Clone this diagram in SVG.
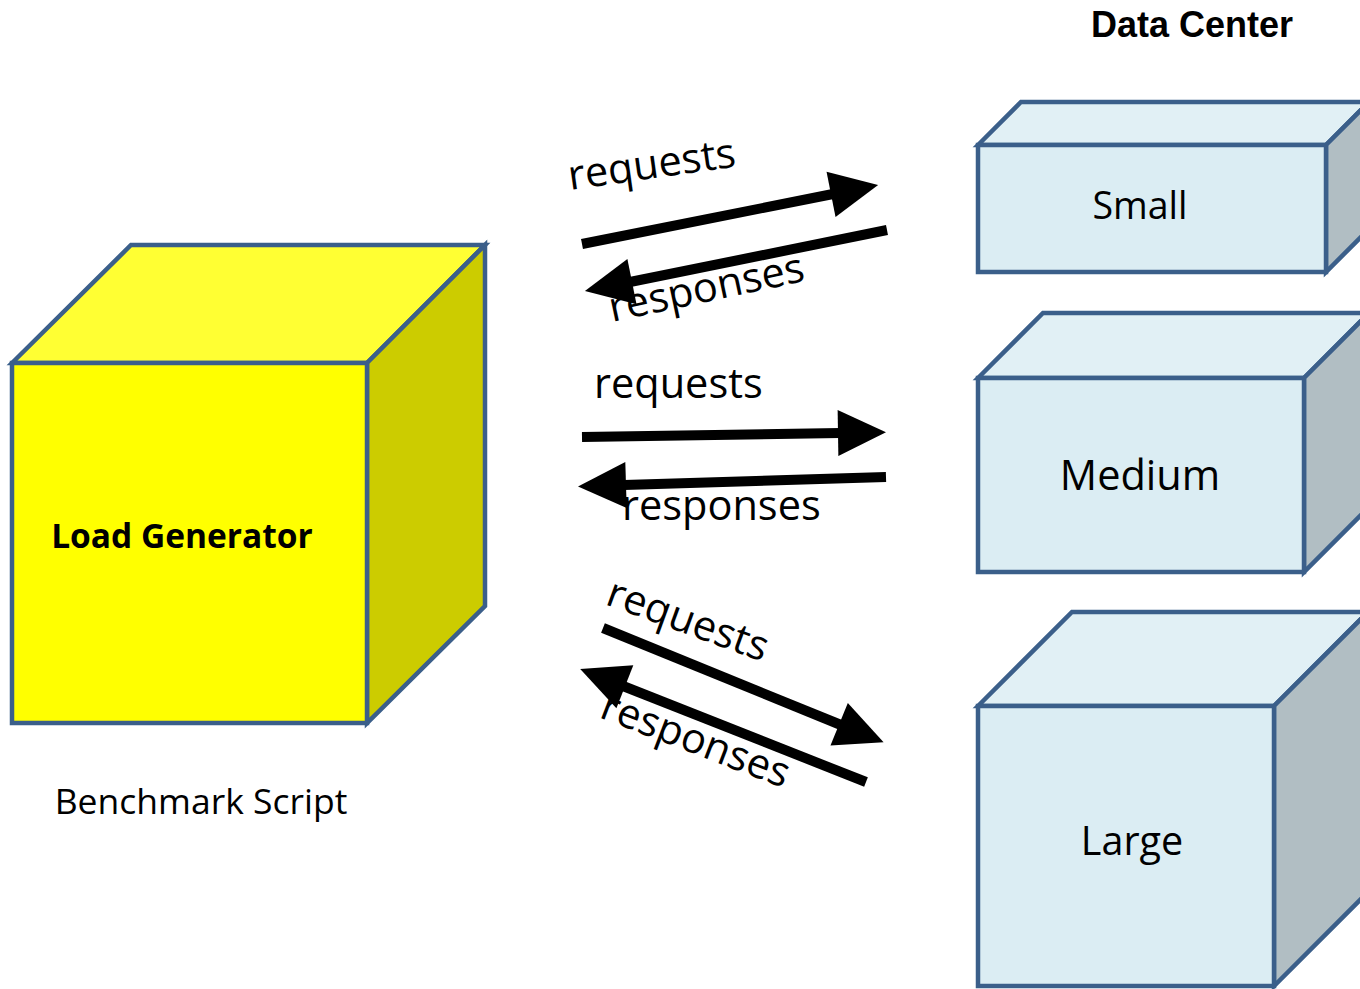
<svg xmlns="http://www.w3.org/2000/svg" width="1360" height="989" viewBox="0 0 1360 989">
  <style>
    .edge { stroke: #3B5F8A; stroke-width: 4.5; stroke-linejoin: miter; }
    .y-front { fill: #FFFF00; }
    .y-top { fill: #FFFF33; }
    .y-side { fill: #CCCC00; }
    .b-front { fill: #DBEDF3; }
    .b-top { fill: #E1F0F5; }
    .b-side { fill: #B1BEC3; }
    .lbl { font-family: "Open Sans", "Liberation Sans", sans-serif; fill: #000; }
    .flow { stroke: #000; stroke-width: 10; fill: none; marker-end: url(#head); }
  </style>
  <defs>
    <marker id="head" markerUnits="userSpaceOnUse" markerWidth="48" markerHeight="46" refX="2" refY="23" orient="auto" overflow="visible">
      <path d="M0,0 L48,23 L0,46 Z" fill="#000"/>
    </marker>
  </defs>

  <rect width="1360" height="989" fill="#FFFFFF"/>

  <text x="1192" y="37" font-family="Liberation Sans, Arial, sans-serif" font-weight="bold" font-size="36" text-anchor="middle">Data Center</text>

  <!-- Load generator cube -->
  <g id="load-generator">
    <polygon class="y-top edge" points="12,363 131,245 485,245 367,363"/>
    <polygon class="y-side edge" points="367,363 485,245 485,606 367,723"/>
    <rect class="y-front edge" x="12" y="363" width="355" height="360"/>
    <text class="lbl" x="182" y="548" font-size="33.5" font-weight="bold" text-anchor="middle">Load Generator</text>
  </g>

  <g id="benchmark-script">
    <text class="lbl" x="201" y="814" font-size="35.5" text-anchor="middle">Benchmark Script</text>
  </g>

  <!-- Data center boxes -->
  <g id="dc-small">
    <polygon class="b-top edge" points="978,145 1021,102 1369,102 1326,145"/>
    <polygon class="b-side edge" points="1326,145 1369,102 1369,229 1326,272"/>
    <rect class="b-front edge" x="978" y="145" width="348" height="127"/>
    <text class="lbl" x="1140" y="219" font-size="37.5" text-anchor="middle">Small</text>
  </g>

  <g id="dc-medium">
    <polygon class="b-top edge" points="978,378 1043,313 1369,313 1304,378"/>
    <polygon class="b-side edge" points="1304,378 1369,313 1369,507 1304,572"/>
    <rect class="b-front edge" x="978" y="378" width="326" height="194"/>
    <text class="lbl" x="1140" y="490" font-size="41.5" text-anchor="middle">Medium</text>
  </g>

  <g id="dc-large">
    <polygon class="b-top edge" points="978,706 1072,612 1368,612 1274,706"/>
    <polygon class="b-side edge" points="1274,706 1368,612 1368,892 1274,986"/>
    <rect class="b-front edge" x="978" y="706" width="296" height="280"/>
    <text class="lbl" x="1132" y="855" font-size="39.5" text-anchor="middle">Large</text>
  </g>

  <!-- Request / response flows -->
  <g id="connectors">
    <line class="flow" x1="582" y1="244" x2="833" y2="194"/>
    <line class="flow" x1="887" y1="230" x2="630" y2="282"/>
    <line class="flow" x1="582" y1="437" x2="840" y2="433"/>
    <line class="flow" x1="886" y1="477" x2="624" y2="485"/>
    <line class="flow" x1="603" y1="628" x2="841" y2="725"/>
    <line class="flow" x1="866" y1="782" x2="623" y2="686"/>

    <text class="lbl" font-size="41.5" transform="translate(570,190) rotate(-8)">requests</text>
    <text class="lbl" font-size="41.5" transform="translate(612,322) rotate(-12)">responses</text>
    <text class="lbl" font-size="41.5" x="594" y="398">requests</text>
    <text class="lbl" font-size="41.5" x="622" y="520">responses</text>
    <text class="lbl" font-size="41.5" transform="translate(604,604) rotate(20)">requests</text>
    <text class="lbl" font-size="41.5" transform="translate(598,717) rotate(21)">responses</text>
  </g>
</svg>
